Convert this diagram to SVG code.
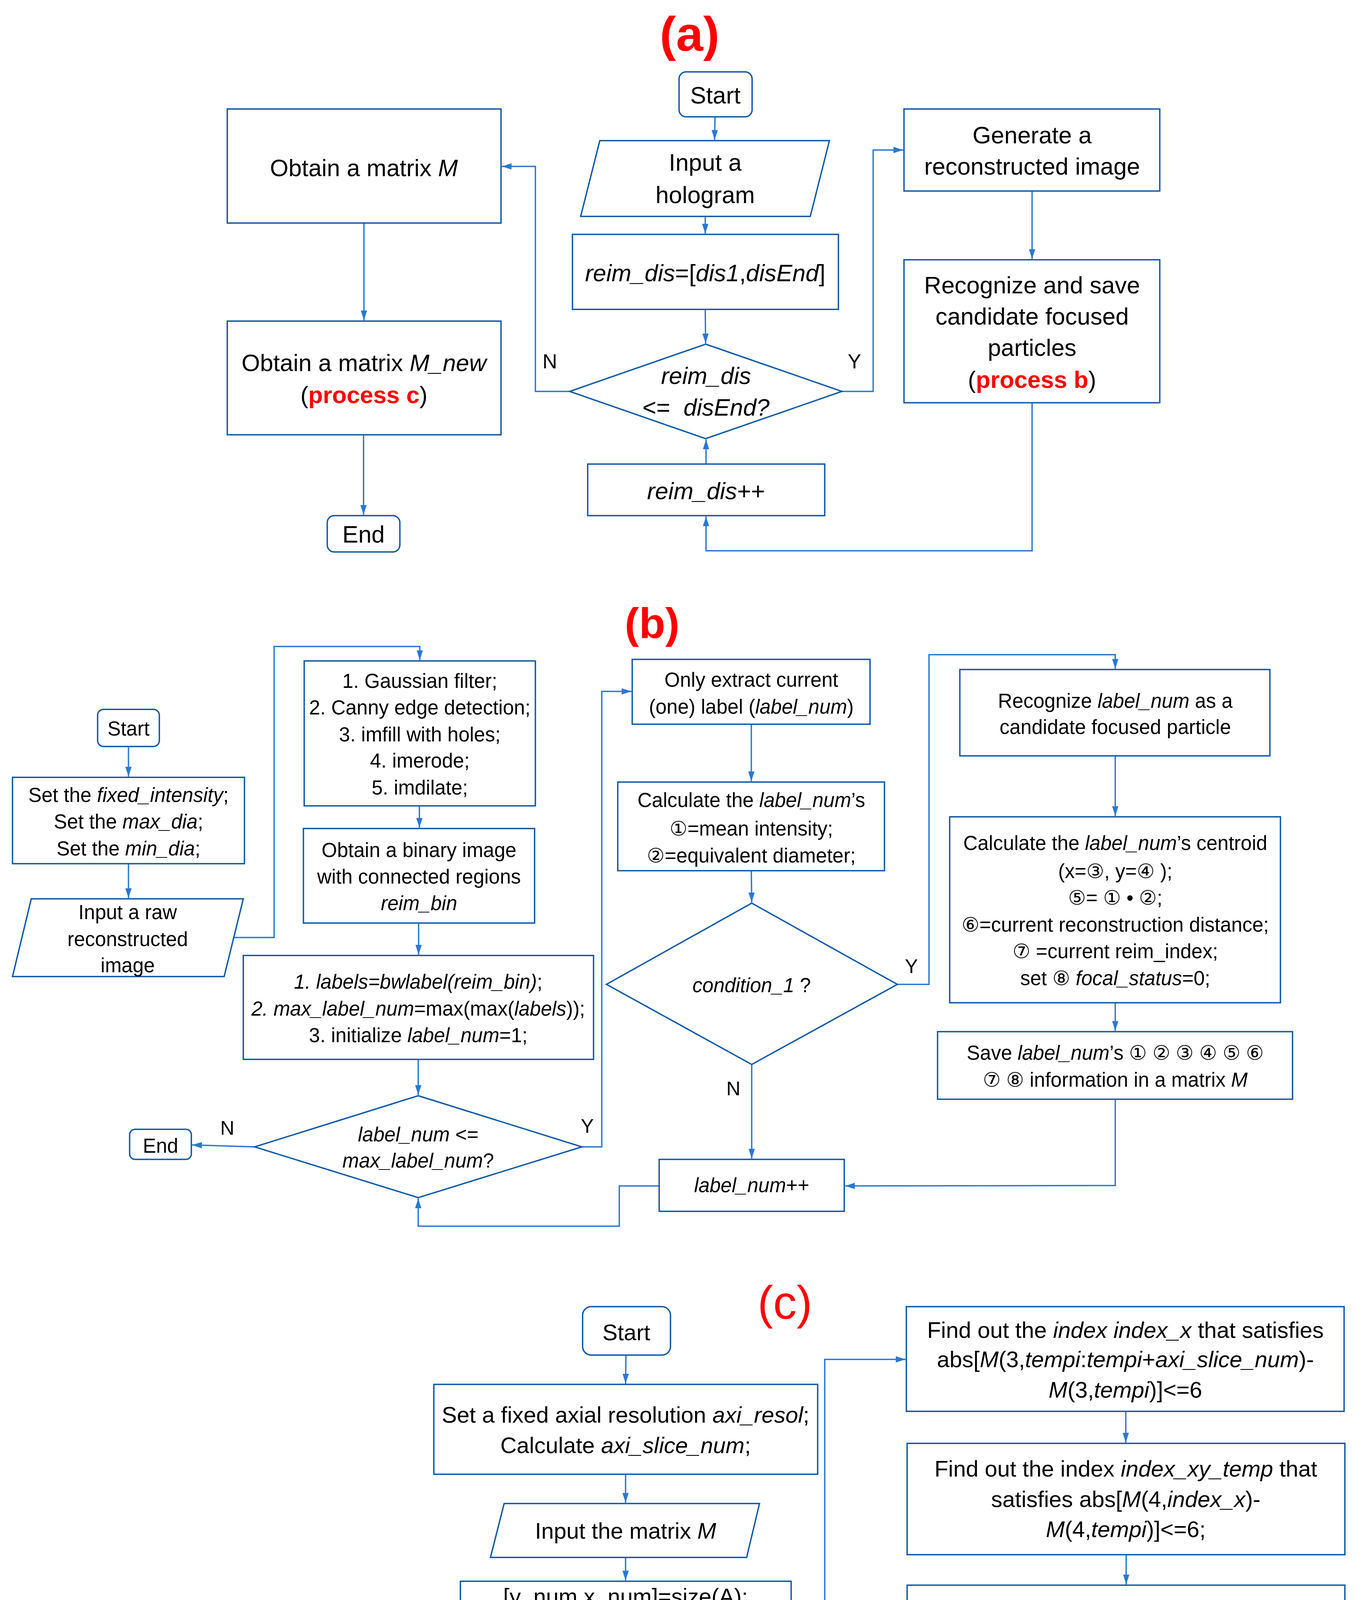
<svg xmlns="http://www.w3.org/2000/svg" width="3493" height="4861" viewBox="0 0 3493 4861">
<defs>
<style>
.bx{fill:#fff;stroke:#0c57a8;stroke-width:3.5}
.ar{fill:none;stroke:#2a78d3;stroke-width:3.5;marker-end:url(#ah)}
text{font-family:"Liberation Sans","DejaVu Sans",sans-serif;fill:#000;text-anchor:middle}
.fa{font-size:61px}
.fb{font-size:51px}
.fc{font-size:58px}
.la{font-size:52px}
.lb{font-size:50px}
.lc{font-size:56px}
.i{font-style:italic}
.r{fill:#ff0000;font-weight:bold}
.ttl{fill:#ff0000}
</style>
<marker id="ah" markerUnits="userSpaceOnUse" markerWidth="28" markerHeight="20" refX="25" refY="8" orient="auto">
<path d="M0,0 L25,8 L0,16 z" fill="#2a78d3"/>
</marker>
</defs>
<rect width="3493" height="4861" fill="#fff"/>

<!-- Titles -->
<text x="1766" y="130" font-size="125" font-weight="bold" class="ttl">(a)</text>
<text x="1670" y="1633" font-size="110" font-weight="bold" class="ttl">(b)</text>
<text x="2010" y="3376" font-size="120" class="ttl">(c)</text>

<!-- ===== Connectors ===== -->
<g id="connectors">
<!-- (a) -->
<path class="ar" d="M1831,299 L1830,358"/>
<path class="ar" d="M1806,554 L1806,598"/>
<path class="ar" d="M1806,792 L1807,879"/>
<path class="ar" d="M1459,1002 L1371,1002 L1371,426 L1285,426"/>
<path class="ar" d="M2156,1002 L2236,1002 L2236,384 L2313,384"/>
<path class="ar" d="M2643,489 L2643,663"/>
<path class="ar" d="M2643,1031 L2643,1410 L1808,1410 L1808,1322"/>
<path class="ar" d="M1808,1188 L1808,1125"/>
<path class="ar" d="M932,571 L932,820"/>
<path class="ar" d="M931,1113 L931,1318"/>
<!-- (b) -->
<path class="ar" d="M329,1911 L329,1988"/>
<path class="ar" d="M329,2211 L329,2299"/>
<path class="ar" d="M599,2400 L702,2400 L702,1655 L1075,1655 L1075,1690"/>
<path class="ar" d="M1074,2063 L1074,2119"/>
<path class="ar" d="M1072,2363 L1072,2444"/>
<path class="ar" d="M1071,2712 L1071,2803"/>
<path class="ar" d="M652,2936 L492,2931"/>
<path class="ar" d="M1490,2936 L1541,2936 L1541,1770 L1617,1770"/>
<path class="ar" d="M1924,1854 L1924,2000"/>
<path class="ar" d="M1924,2229 L1925,2310"/>
<path class="ar" d="M2298,2520 L2379,2520 L2379,1676 L2856,1676 L2856,1712"/>
<path class="ar" d="M1925,2725 L1925,2966"/>
<path class="ar" d="M2856,1935 L2856,2089"/>
<path class="ar" d="M2856,2567 L2856,2639"/>
<path class="ar" d="M2856,2814 L2856,3035 L2164,3036"/>
<path class="ar" d="M1688,3036 L1586,3036 L1586,3139 L1071,3139 L1071,3068"/>
<!-- (c) -->
<path class="ar" d="M1603,3469 L1602,3542"/>
<path class="ar" d="M1602,3774 L1602,3847"/>
<path class="ar" d="M1602,3987 L1602,4046"/>
<path class="ar" d="M1602,4199 L1603,4285"/>
<path class="ar" d="M1303,4412 L1151,4412"/>
<path class="ar" d="M865,4533 L865,4657"/>
<path class="ar" d="M1905,4412 L2112,4411 L2112,3480 L2319,3480"/>
<path class="ar" d="M2883,3613 L2883,3693"/>
<path class="ar" d="M2884,3980 L2884,4056"/>
<path class="ar" d="M2885,4247 L2885,4343"/>
<path class="ar" d="M2886,4481 L2886,4576"/>
<path class="ar" d="M2321,4705 L1785,4705"/>
<path class="ar" d="M1603,4637 L1603,4540"/>
</g>

<!-- ===== (a) nodes ===== -->
<g id="a-start">
<rect class="bx" x="1739" y="184" width="187" height="115" rx="18"/>
<text class="fa" x="1832" y="265">Start</text>
</g>
<g id="a-input">
<polygon class="bx" points="1536,360 2124,360 2075,554 1487,554"/>
<text class="fa" x="1806" y="437">Input a</text>
<text class="fa" x="1806" y="520">hologram</text>
</g>
<g id="a-reimdis">
<rect class="bx" x="1466" y="600" width="681" height="192"/>
<text class="fa" x="1806" y="720"><tspan class="i">reim_dis</tspan>=[<tspan class="i">dis1</tspan>,<tspan class="i">disEnd</tspan>]</text>
</g>
<g id="a-decision">
<polygon class="bx" points="1807,881 2156,1002 1807,1123 1459,1002"/>
<text class="fa i" x="1808" y="983">reim_dis</text>
<text class="fa" x="1808" y="1064" xml:space="preserve">&lt;=  <tspan class="i">disEnd?</tspan></text>
</g>
<g id="a-incr">
<rect class="bx" x="1505" y="1188" width="607" height="132"/>
<text class="fa" x="1808" y="1278"><tspan class="i">reim_dis</tspan>++</text>
</g>
<g id="a-generate">
<rect class="bx" x="2315" y="279" width="655" height="210"/>
<text class="fa" x="2643" y="367">Generate a</text>
<text class="fa" x="2643" y="447">reconstructed image</text>
</g>
<g id="a-recognize">
<rect class="bx" x="2315" y="665" width="655" height="366"/>
<text class="fa" x="2643" y="751">Recognize and save</text>
<text class="fa" x="2643" y="831">candidate focused</text>
<text class="fa" x="2643" y="911">particles</text>
<text class="fa" x="2643" y="993">(<tspan class="r">process b</tspan>)</text>
</g>
<g id="a-matrixM">
<rect class="bx" x="582" y="279" width="701" height="292"/>
<text class="fa" x="932" y="451">Obtain a matrix <tspan class="i">M</tspan></text>
</g>
<g id="a-matrixMnew">
<rect class="bx" x="582" y="822" width="701" height="291"/>
<text class="fa" x="932" y="950">Obtain a matrix <tspan class="i">M_new</tspan></text>
<text class="fa" x="932" y="1032">(<tspan class="r">process c</tspan>)</text>
</g>
<g id="a-end">
<rect class="bx" x="838" y="1320" width="186" height="93" rx="18"/>
<text class="fa" x="931" y="1389">End</text>
</g>
<text class="la" x="1408" y="943">N</text>
<text class="la" x="2188" y="943">Y</text>

<!-- ===== (b) nodes ===== -->
<g id="b-start">
<rect class="bx" x="250" y="1816" width="158" height="95" rx="15"/>
<text class="fb" x="329" y="1883">Start</text>
</g>
<g id="b-set">
<rect class="bx" x="32" y="1990" width="594" height="221"/>
<text class="fb" x="329" y="2053">Set the <tspan class="i">fixed_intensity</tspan>;</text>
<text class="fb" x="329" y="2121">Set the <tspan class="i">max_dia</tspan>;</text>
<text class="fb" x="329" y="2190">Set the <tspan class="i">min_dia</tspan>;</text>
</g>
<g id="b-input">
<polygon class="bx" points="80,2301 623,2301 574,2500 32,2500"/>
<text class="fb" x="327" y="2353">Input a raw</text>
<text class="fb" x="327" y="2422">reconstructed</text>
<text class="fb" x="327" y="2489">image</text>
</g>
<g id="b-filter">
<rect class="bx" x="779" y="1692" width="592" height="371"/>
<text class="fb" x="1075" y="1761">1. Gaussian filter;</text>
<text class="fb" x="1075" y="1829">2. Canny edge detection;</text>
<text class="fb" x="1075" y="1898">3. imfill with holes;</text>
<text class="fb" x="1075" y="1965">4. imerode;</text>
<text class="fb" x="1075" y="2034">5. imdilate;</text>
</g>
<g id="b-binary">
<rect class="bx" x="777" y="2121" width="592" height="242"/>
<text class="fb" x="1073" y="2194">Obtain a binary image</text>
<text class="fb" x="1073" y="2262">with connected regions</text>
<text class="fb i" x="1073" y="2330">reim_bin</text>
</g>
<g id="b-labels">
<rect class="bx" x="623" y="2446" width="897" height="266"/>
<text class="fb" x="1071" y="2531"><tspan class="i">1. labels=bwlabel(reim_bin)</tspan>;</text>
<text class="fb" x="1071" y="2600"><tspan class="i">2. max_label_num</tspan>=max(max(<tspan class="i">labels</tspan>));</text>
<text class="fb" x="1071" y="2668">3. initialize <tspan class="i">label_num</tspan>=1;</text>
</g>
<g id="b-decision">
<polygon class="bx" points="1071,2805 1490,2936 1071,3066 652,2936"/>
<text class="fb" x="1071" y="2922"><tspan class="i">label_num</tspan> &lt;=</text>
<text class="fb" x="1071" y="2989"><tspan class="i">max_label_num</tspan>?</text>
</g>
<g id="b-end">
<rect class="bx" x="332" y="2891" width="158" height="77" rx="14"/>
<text class="fb" x="411" y="2951">End</text>
</g>
<text class="lb" x="582" y="2905">N</text>
<text class="lb" x="1504" y="2900">Y</text>
<g id="b-extract">
<rect class="bx" x="1619" y="1688" width="609" height="166"/>
<text class="fb" x="1924" y="1758">Only extract current</text>
<text class="fb" x="1924" y="1827">(one) label (<tspan class="i">label_num</tspan>)</text>
</g>
<g id="b-calc">
<rect class="bx" x="1582" y="2002" width="683" height="227"/>
<text class="fb" x="1924" y="2066">Calculate the <tspan class="i">label_num</tspan>’s</text>
<text class="fb" x="1924" y="2139">①=mean intensity;</text>
<text class="fb" x="1924" y="2208">②=equivalent diameter;</text>
</g>
<g id="b-condition">
<polygon class="bx" points="1925,2312 2298,2520 1925,2725 1553,2520"/>
<text class="fb" x="1925" y="2540"><tspan class="i">condition_1</tspan> ?</text>
</g>
<text class="lb" x="2334" y="2491">Y</text>
<text class="lb" x="1878" y="2804">N</text>
<g id="b-incr">
<rect class="bx" x="1688" y="2968" width="474" height="133"/>
<text class="fb" x="1925" y="3052"><tspan class="i">label_num</tspan>++</text>
</g>
<g id="b-recognize">
<rect class="bx" x="2458" y="1714" width="794" height="221"/>
<text class="fb" x="2856" y="1812">Recognize <tspan class="i">label_num</tspan> as a</text>
<text class="fb" x="2856" y="1879">candidate focused particle</text>
</g>
<g id="b-centroid">
<rect class="bx" x="2432" y="2091" width="847" height="476"/>
<text class="fb" x="2856" y="2176">Calculate the <tspan class="i">label_num</tspan>’s centroid</text>
<text class="fb" x="2856" y="2248">(x=③, y=④ );</text>
<text class="fb" x="2856" y="2316">⑤= ① • ②;</text>
<text class="fb" x="2856" y="2385">⑥=current reconstruction distance;</text>
<text class="fb" x="2856" y="2453">⑦ =current reim_index;</text>
<text class="fb" x="2856" y="2522">set ⑧ <tspan class="i">focal_status</tspan>=0;</text>
</g>
<g id="b-save">
<rect class="bx" x="2401" y="2641" width="909" height="173"/>
<text class="fb" x="2856" y="2713">Save <tspan class="i">label_num</tspan>’s ① ② ③ ④ ⑤ ⑥</text>
<text class="fb" x="2856" y="2782">⑦ ⑧ information in a matrix <tspan class="i">M</tspan></text>
</g>

<!-- ===== (c) nodes ===== -->
<g id="c-start">
<rect class="bx" x="1492" y="3345" width="225" height="124" rx="22"/>
<text class="fc" x="1604" y="3431">Start</text>
</g>
<g id="c-set">
<rect class="bx" x="1111" y="3544" width="983" height="230"/>
<text class="fc" x="1602" y="3642">Set a fixed axial resolution <tspan class="i">axi_resol</tspan>;</text>
<text class="fc" x="1602" y="3720">Calculate <tspan class="i">axi_slice_num</tspan>;</text>
</g>
<g id="c-input">
<polygon class="bx" points="1291,3849 1945,3849 1912,3987 1256,3987"/>
<text class="fc" x="1602" y="3939">Input the matrix <tspan class="i">M</tspan></text>
</g>
<g id="c-size">
<rect class="bx" x="1179" y="4048" width="847" height="151"/>
<text class="fc" x="1602" y="4107">[y_num,x_num]=size(A);</text>
<text class="fc" x="1602" y="4184">initialize tempi=1;</text>
</g>
<g id="c-decision">
<polygon class="bx" points="1603,4287 1905,4412 1603,4538 1303,4412"/>
<text class="fc" x="1603" y="4398"><tspan class="i">tempi</tspan> &lt;=</text>
<text class="fc" x="1603" y="4476"><tspan class="i">x_num</tspan>?</text>
</g>
<text class="lc" x="1222" y="4368">N</text>
<text class="lc" x="2010" y="4363">Y</text>
<g id="c-obtain">
<rect class="bx" x="582" y="4297" width="567" height="236"/>
<text class="fc" x="865" y="4398">Obtain <tspan class="i">M_new</tspan> that</text>
<text class="fc" x="865" y="4476">satisfies <tspan class="i">M</tspan>(8,:)==1</text>
</g>
<g id="c-end">
<rect class="bx" x="765" y="4659" width="202" height="118" rx="22"/>
<text class="fc" x="866" y="4741">End</text>
</g>
<g id="c-incr">
<rect class="bx" x="1425" y="4637" width="358" height="128"/>
<text class="fc" x="1604" y="4722"><tspan class="i">tempi</tspan>++</text>
</g>
<g id="c-box1">
<rect class="bx" x="2321" y="3345" width="1121" height="268"/>
<text class="fc" x="2882" y="3425">Find out the <tspan class="i">index index_x</tspan> that satisfies</text>
<text class="fc" x="2882" y="3500">abs[<tspan class="i">M</tspan>(3,<tspan class="i">tempi</tspan>:<tspan class="i">tempi</tspan>+<tspan class="i">axi_slice_num</tspan>)-</text>
<text class="fc" x="2882" y="3578"><tspan class="i">M</tspan>(3,<tspan class="i">tempi</tspan>)]&lt;=6</text>
</g>
<g id="c-box2">
<rect class="bx" x="2323" y="3695" width="1121" height="285"/>
<text class="fc" x="2883" y="3780">Find out the index <tspan class="i">index_xy_temp</tspan> that</text>
<text class="fc" x="2883" y="3858">satisfies abs[<tspan class="i">M</tspan>(4,<tspan class="i">index_x</tspan>)-</text>
<text class="fc" x="2883" y="3935"><tspan class="i">M</tspan>(4,<tspan class="i">tempi</tspan>)]&lt;=6;</text>
</g>
<g id="c-box3">
<rect class="bx" x="2323" y="4058" width="1121" height="189"/>
<text class="fc" x="2884" y="4175"><tspan class="i">index_xy</tspan>=<tspan class="i">index_x</tspan>(<tspan class="i">index_xy_temp</tspan>);</text>
</g>
<g id="c-box4">
<rect class="bx" x="2635" y="4345" width="502" height="136"/>
<text class="fc" x="2886" y="4435"><tspan class="i">M</tspan>(8,<tspan class="i">index_xy</tspan>)=2</text>
</g>
<g id="c-box5">
<rect class="bx" x="2321" y="4578" width="1131" height="252"/>
<text class="fc" x="2886" y="4685">Find out the <tspan class="i">index_best_focal</tspan>;</text>
<text class="fc" x="2886" y="4762">set <tspan class="i">M</tspan>(8,<tspan class="i">index_best_focal</tspan>)=1;</text>
</g>
</svg>
